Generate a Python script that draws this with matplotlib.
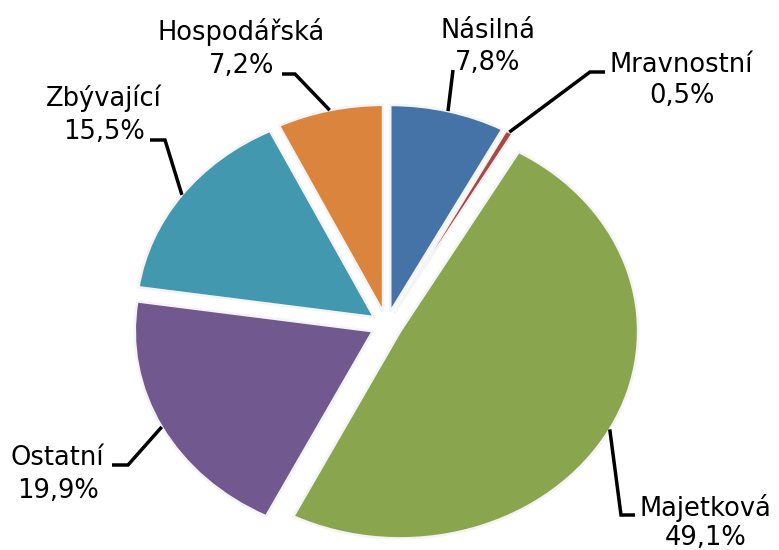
import numpy as np
import matplotlib
matplotlib.use('Agg')
import matplotlib.pyplot as plt

categories = ['Násilná', 'Mravnostní', 'Majetková', 'Ostatní', 'Zbývající', 'Hospodářská']
shares = [7.8, 0.5, 49.1, 19.9, 15.5, 7.2]
pct_labels = ['7,8%', '0,5%', '49,1%', '19,9%', '15,5%', '7,2%']
colors = ['#4572A7', '#AA4643', '#89A54E', '#71588F', '#4198AF', '#DB843D']

# layout (pixels from top-left): pie centre and radii, label baselines, leader elbows
W, H = 779, 550
cx, cy, rx, ry = 386.5, 325, 238, 207
explode = 0.065
name_pos = [(488, 38), (681, 72), (705, 516), (57, 465), (104, 106), (241, 40)]
pct_pos = [(488, 70), (682, 103), (706, 545), (58, 498), (104, 139), (242, 73)]
elbows = [[(453, 70)],
          [(605, 72), (590, 72)],
          [(635, 515), (621, 515)],
          [(112, 465), (128, 465)],
          [(150, 140), (165, 140)],
          [(282, 74), (295, 74)]]


def px(x, y):
    return (x - cx) / rx, (cy - y) / ry


fig = plt.figure(figsize=(W / 100, H / 100), dpi=100)
ax = fig.add_axes([0, 0, 1, 1])
wedges, _ = ax.pie(shares, colors=colors, startangle=90, counterclock=False,
                   explode=[explode] * len(shares), radius=1, center=(0, 0),
                   wedgeprops=dict(edgecolor='#f4f4f4', linewidth=1.8))
ax.set_aspect('auto')
ax.set_xlim(px(0, 0)[0], px(W, 0)[0])
ax.set_ylim(px(0, H)[1], px(0, 0)[1])
ax.axis('off')

for i, w in enumerate(wedges):
    mid = np.deg2rad((w.theta1 + w.theta2) / 2)
    sx = (1 + explode) * np.cos(mid)
    sy = (1 + explode) * np.sin(mid)
    pts = [px(*p) for p in elbows[i]] + [(sx, sy)]
    ax.plot([p[0] for p in pts], [p[1] for p in pts], color='black', lw=2.5,
            solid_capstyle='butt', solid_joinstyle='miter')
    ax.text(*px(*name_pos[i]), categories[i], ha='center', va='baseline',
            fontsize=18.5, family='DejaVu Sans')
    ax.text(*px(*pct_pos[i]), pct_labels[i], ha='center', va='baseline',
            fontsize=18.5, family='DejaVu Sans')

fig.savefig('out.png', dpi=100)
